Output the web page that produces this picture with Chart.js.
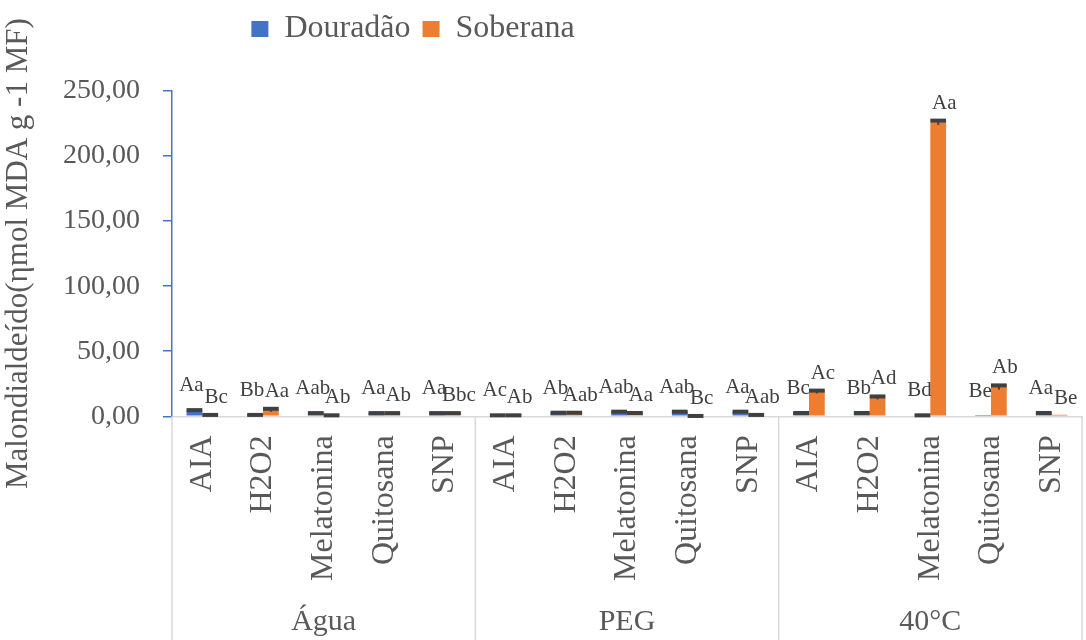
<!DOCTYPE html>
<html>
<head>
<meta charset="utf-8">
<script src="https://cdn.jsdelivr.net/npm/chart.js@4"></script>
<style>
  html, body { margin: 0; padding: 0; background: #fff; }
  #wrap { width: 1086px; height: 640px; }
</style>
</head>
<body>
<div id="wrap"><canvas id="myChart"></canvas></div>
<script>
const categories = ['AIA', 'H2O2', 'Melatonina', 'Quitosana', 'SNP',
                    'AIA', 'H2O2', 'Melatonina', 'Quitosana', 'SNP',
                    'AIA', 'H2O2', 'Melatonina', 'Quitosana', 'SNP'];
const groups = ['Água', 'PEG', '40°C'];

const douradao = [4.5, 1.5, 2.8, 2.8, 2.8,  1.2, 3.0, 3.5, 3.5, 3.5,  2.8, 2.8, 1.2, 1.0, 2.8];
const douradaoErr = [1.0, 0.3, 0.4, 0.4, 0.4,  0.3, 0.5, 0.8, 0.8, 0.8,  0.5, 0.5, 0.3, 0, 0.5];
const soberana = [1.5, 5.0, 1.2, 2.8, 2.8,  1.2, 3.0, 2.8, 0.8, 1.5,  19, 14.5, 226, 22.5, 1.2];
const soberanaErr = [0.3, 1.5, 0.3, 0.4, 0.4,  0.3, 0.5, 0.5, 0.2, 0.3,  1.5, 1.5, 2, 2, 0];

const douradaoLetters = ['Aa', 'Bb', 'Aab', 'Aa', 'Aa',  'Ac', 'Ab', 'Aab', 'Aab', 'Aa',  'Bc', 'Bb', 'Bd', 'Be', 'Aa'];
const soberanaLetters = ['Bc', 'Aa', 'Ab', 'Ab', 'Bbc',  'Ab', 'Aab', 'Aa', 'Bc', 'Aab',  'Ac', 'Ad', 'Aa', 'Ab', 'Be'];

const yTicks = [0, 50, 100, 150, 200, 250];

const serif = '"Liberation Serif", "Times New Roman", Times, Tinos, "Noto Serif", "DejaVu Serif", FreeSerif, serif';
const grey = '#595959';

// error bars + letters above each bar
const barExtras = {
    id: 'barExtras',
    afterDatasetsDraw(chart) {
        const ctx = chart.ctx;
        const y = chart.scales.y;
        const errs = [douradaoErr, soberanaErr];
        const letters = [douradaoLetters, soberanaLetters];
        const shiftX = [-3, 6];
        const gap = [13, 6];
        ctx.save();
        chart.data.datasets.forEach((ds, i) => {
            chart.getDatasetMeta(i).data.forEach((bar, j) => {
                const v = ds.data[j];
                const e = errs[i][j];
                const top = y.getPixelForValue(v + e);
                if (e > 0) {
                    const bot = y.getPixelForValue(v - e);
                    ctx.strokeStyle = '#404040';
                    ctx.lineWidth = 2;
                    ctx.beginPath();
                    ctx.moveTo(bar.x, top);
                    ctx.lineTo(bar.x, bot);
                    ctx.stroke();
                    ctx.fillStyle = '#404040';
                    ctx.fillRect(bar.x - bar.width / 2, top - 1, bar.width, 4);
                }
                ctx.fillStyle = '#404040';
                ctx.font = '21px ' + serif;
                ctx.textAlign = 'center';
                ctx.textBaseline = 'bottom';
                ctx.fillText(letters[i][j], bar.x + shiftX[i], top - gap[i]);
            });
        });
        ctx.restore();
    }
};

// group labels and separators under the category axis
const groupAxis = {
    id: 'groupAxis',
    afterDraw(chart) {
        const ctx = chart.ctx;
        const x = chart.scales.x;
        const step = x.width / categories.length;
        const per = categories.length / groups.length;
        const yTop = chart.chartArea.bottom;
        ctx.save();
        ctx.strokeStyle = '#d9d9d9';
        ctx.lineWidth = 1.5;
        for (let k = 0; k <= groups.length; k++) {
            const px = x.left + k * per * step;
            ctx.beginPath();
            ctx.moveTo(px, yTop);
            ctx.lineTo(px, chart.height);
            ctx.stroke();
        }
        ctx.fillStyle = grey;
        ctx.font = '30px ' + serif;
        ctx.textAlign = 'center';
        ctx.textBaseline = 'middle';
        groups.forEach((g, k) => {
            ctx.fillText(g, x.left + (k + 0.5) * per * step, 622);
        });
        ctx.restore();
    }
};

// move the legend up and left, as in the original
const legendShift = {
    id: 'legendShift',
    afterLayout(chart) {
        chart.legend.left -= 128;
        chart.legend.right -= 128;
        chart.legend.top -= 36;
        chart.legend.bottom -= 36;
    }
};

new Chart(document.getElementById('myChart'), {
    type: 'bar',
    data: {
        labels: categories,
        datasets: [{
            label: 'Douradão',
            data: douradao,
            backgroundColor: '#4472C4'
        },
        {
            label: 'Soberana',
            data: soberana,
            backgroundColor: '#ED7D31'
        }]
    },
    options: {
        responsive: true,
        maintainAspectRatio: false,
        animation: false,
        layout: { padding: { top: 37, right: 4, bottom: 48, left: 0 } },
        datasets: { bar: { categoryPercentage: 0.52, barPercentage: 1 } },
        plugins: {
            tooltip: { enabled: false },
            legend: {
                position: 'top',
                labels: {
                    boxWidth: 17,
                    boxHeight: 16,
                    padding: 12,
                    color: grey,
                    font: { family: serif, size: 32 }
                }
            }
        },
        scales: {
            x: {
                afterFit(scale) { scale.paddingLeft = 0; scale.paddingRight = 0; },
                grid: { display: false },
                border: { color: '#d9d9d9', width: 1.5 },
                ticks: {
                    autoSkip: false,
                    minRotation: 90,
                    maxRotation: 90,
                    padding: 11,
                    color: grey,
                    font: { family: serif, size: 32 }
                }
            },
            y: {
                min: 0,
                max: 250,
                afterFit(scale) { scale.width = 172; },
                afterBuildTicks(scale) { scale.ticks = yTicks.map(v => ({ value: v })); },
                grid: {
                    drawOnChartArea: false,
                    drawTicks: true,
                    tickLength: 9,
                    color: '#4472C4',
                    lineWidth: 1.5
                },
                border: { color: '#4472C4', width: 1.5 },
                ticks: {
                    padding: 23,
                    color: grey,
                    font: { family: serif, size: 28 },
                    callback: v => v.toFixed(2).replace('.', ',')
                },
                title: {
                    display: true,
                    text: 'Malondialdeído(ηmol MDA g -1 MF)',
                    color: grey,
                    font: { family: serif, size: 31 },
                    padding: { top: 0, bottom: 6 }
                }
            }
        }
    },
    plugins: [barExtras, groupAxis, legendShift]
});
</script>
</body>
</html>
